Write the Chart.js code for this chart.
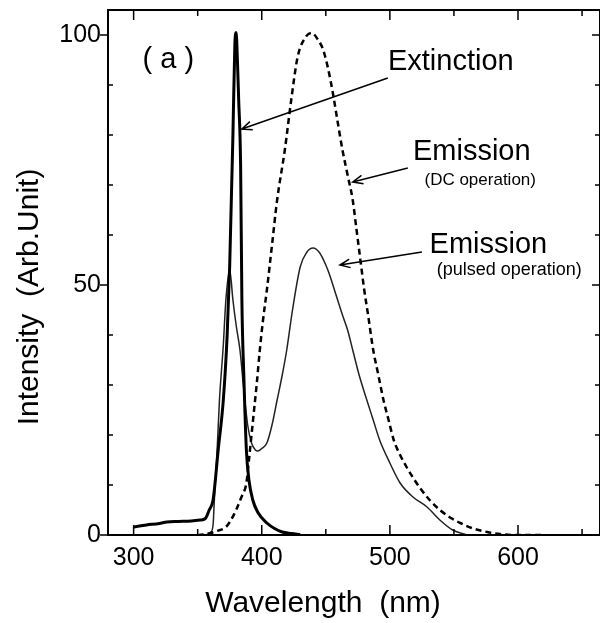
<!DOCTYPE html>
<html>
<head>
<meta charset="utf-8">
<script src="https://cdn.jsdelivr.net/npm/chart.js@4"></script>
<style>
  body { margin: 0; background: #fff; }
</style>
</head>
<body>
<canvas id="grafico" width="600" height="623"></canvas>
<script>
// wavelengths (nm) and intensities
const extNm = [300, 310, 320, 326, 335, 345, 352, 356, 359, 362, 366, 370, 373, 375, 377.5, 379, 380, 381, 382, 383.5, 384.5, 386, 388, 390, 393, 397, 404, 410, 416, 423, 430];
const extVal = [1.6, 2.0, 2.3, 2.6, 2.7, 2.8, 3.0, 3.3, 5, 7, 17, 27, 40, 54, 80, 98, 100.5, 95, 87, 74, 47, 32, 17, 11, 7, 4.5, 2.4, 1.3, 0.6, 0.3, 0.1];

const dcNm = [350, 357, 365, 372, 376, 380, 384, 388, 390, 392, 394, 396, 398.5, 401, 404, 408, 412, 418, 423, 428, 434, 439, 444, 448, 452, 455.5, 459, 463, 467, 471, 474, 477, 480, 483, 487, 491, 495, 499, 503, 508, 513, 518, 523, 531, 539, 547, 555, 565, 576, 586, 596, 620];
const dcVal = [0, 0.2, 0.8, 1.6, 3, 5, 7.5, 10.4, 15, 20, 25, 30, 37, 43, 49, 58, 67, 77, 87, 95.6, 99.5, 100.4, 99, 97, 93, 88.4, 83, 77, 72, 67, 61, 55, 49, 44, 37, 32, 27, 23, 19, 16, 13.6, 11.5, 9.6, 7, 5, 3.5, 2.4, 1.3, 0.6, 0.2, 0, 0];

const pulsedNm = [345, 355, 360, 362, 363, 365, 367, 370, 372, 375, 377.5, 380, 383, 386, 389, 392, 395, 397, 400, 404, 408, 412, 416, 419.5, 424, 430, 435, 440, 445, 450, 453, 458, 463, 467, 471, 476, 482, 487, 492, 500, 508, 518, 529, 539, 549, 560];
const pulsedVal = [0, 0, 0.5, 2, 7, 16, 27, 38, 47, 53, 47, 42, 37, 29, 22, 18.4, 17, 16.8, 17.3, 18.4, 22, 27, 32, 37, 45, 53.6, 56.5, 57.4, 56.5, 54, 52, 48, 44, 41, 37, 32, 27, 23, 19, 14.4, 10.4, 7.6, 5.6, 3, 1, 0];

const xTicks = [300, 400, 500, 600];
const xMinor = [350, 450, 550, 650];
const yTicks = [0, 50, 100];
const yMinor = [10, 20, 30, 40, 60, 70, 80, 90];

// text labels and arrows inside the plot, in data units
const notes = [
  { text: '( a )', x: 307, y: 95, size: 29 },
  { text: 'Extinction', x: 498.5, y: 94.6, size: 29 },
  { text: 'Emission', x: 518, y: 76.6, size: 29 },
  { text: '(DC operation)', x: 527, y: 71, size: 17 },
  { text: 'Emission', x: 531, y: 58, size: 29 },
  { text: '(pulsed operation)', x: 536.5, y: 53, size: 18 }
];
const arrows = [
  { from: [498.4, 91.4], to: [384.4, 81.2] },
  { from: [514, 73.4], to: [471, 70.6] },
  { from: [525, 56.6], to: [461, 54] }
];

const FONT = '"Liberation Sans", Arial, Helvetica, sans-serif';

const pairs = (xs, ys) => xs.map((x, i) => ({ x: x, y: ys[i] }));

const frame = {
  id: 'frame',
  afterDraw(chart) {
    const ctx = chart.ctx;
    const a = chart.chartArea;
    const sx = chart.scales.x;
    const sy = chart.scales.y;
    ctx.save();
    ctx.strokeStyle = '#000';
    ctx.lineWidth = 2;
    ctx.strokeRect(a.left, a.top, a.right - a.left, a.bottom - a.top);

    ctx.lineWidth = 1.5;
    ctx.beginPath();
    xTicks.concat(xMinor).forEach(v => {
      const len = xTicks.includes(v) ? 10 : 6;
      const px = sx.getPixelForValue(v);
      ctx.moveTo(px, a.bottom); ctx.lineTo(px, a.bottom - len);
      ctx.moveTo(px, a.top); ctx.lineTo(px, a.top + len);
    });
    yTicks.forEach(v => {
      const py = sy.getPixelForValue(v);
      ctx.moveTo(a.left - 8, py); ctx.lineTo(a.left, py);
      ctx.moveTo(a.right, py); ctx.lineTo(a.right - 8, py);
    });
    yMinor.forEach(v => {
      const py = sy.getPixelForValue(v);
      ctx.moveTo(a.left, py); ctx.lineTo(a.left + 5, py);
      ctx.moveTo(a.right, py); ctx.lineTo(a.right - 5, py);
    });
    ctx.stroke();

    // arrows
    ctx.lineWidth = 1.5;
    arrows.forEach(ar => {
      const x1 = sx.getPixelForValue(ar.from[0]), y1 = sy.getPixelForValue(ar.from[1]);
      const x2 = sx.getPixelForValue(ar.to[0]), y2 = sy.getPixelForValue(ar.to[1]);
      const ang = Math.atan2(y2 - y1, x2 - x1);
      ctx.beginPath();
      ctx.moveTo(x1, y1); ctx.lineTo(x2, y2);
      ctx.moveTo(x2 - 11 * Math.cos(ang - 0.4), y2 - 11 * Math.sin(ang - 0.4));
      ctx.lineTo(x2, y2);
      ctx.lineTo(x2 - 11 * Math.cos(ang + 0.4), y2 - 11 * Math.sin(ang + 0.4));
      ctx.stroke();
    });

    ctx.fillStyle = '#000';
    ctx.textBaseline = 'middle';
    ctx.textAlign = 'left';
    notes.forEach(n => {
      ctx.font = n.size + 'px ' + FONT;
      ctx.fillText(n.text, sx.getPixelForValue(n.x), sy.getPixelForValue(n.y));
    });

    // axis titles
    ctx.font = '30px ' + FONT;
    ctx.textAlign = 'center';
    ctx.fillText('Wavelength  (nm)', 323, 604);
    ctx.translate(30, 297);
    ctx.rotate(-Math.PI / 2);
    ctx.fillText('Intensity  (Arb.Unit)', 0, 0);
    ctx.restore();
  }
};

const config = {
  type: 'line',
  data: {
    datasets: [
      {
        label: 'Extinction',
        data: pairs(extNm, extVal),
        borderColor: '#000',
        borderWidth: 3,
        cubicInterpolationMode: 'monotone'
      },
      {
        label: 'Emission (DC operation)',
        data: pairs(dcNm, dcVal),
        borderColor: '#000',
        borderWidth: 2.5,
        borderDash: [6, 4],
        cubicInterpolationMode: 'monotone'
      },
      {
        label: 'Emission (pulsed operation)',
        data: pairs(pulsedNm, pulsedVal),
        borderColor: '#222',
        borderWidth: 1.5,
        cubicInterpolationMode: 'monotone'
      }
    ]
  },
  options: {
    responsive: false,
    animation: false,
    layout: { padding: { top: 10, right: 0, left: 0, bottom: 0 } },
    elements: { point: { radius: 0 } },
    plugins: { legend: { display: false }, tooltip: { enabled: false } },
    scales: {
      x: {
        type: 'linear',
        min: 280,
        max: 664,
        grid: { display: false, drawTicks: false },
        border: { display: false },
        ticks: { color: '#000', font: { family: FONT, size: 25 }, padding: 8, maxRotation: 0 },
        afterBuildTicks: s => { s.ticks = xTicks.map(v => ({ value: v })); },
        afterFit: s => { s.height = 88; s.paddingLeft = 0; s.paddingRight = 0; }
      },
      y: {
        min: 0,
        max: 105,
        grid: { display: false, drawTicks: false },
        border: { display: false },
        ticks: { color: '#000', font: { family: FONT, size: 25 }, padding: 7 },
        afterBuildTicks: s => { s.ticks = yTicks.map(v => ({ value: v })); },
        afterFit: s => { s.width = 108; s.paddingTop = 0; s.paddingBottom = 0; }
      }
    }
  },
  plugins: [frame]
};

new Chart(document.getElementById('grafico'), config);
</script>
</body>
</html>
